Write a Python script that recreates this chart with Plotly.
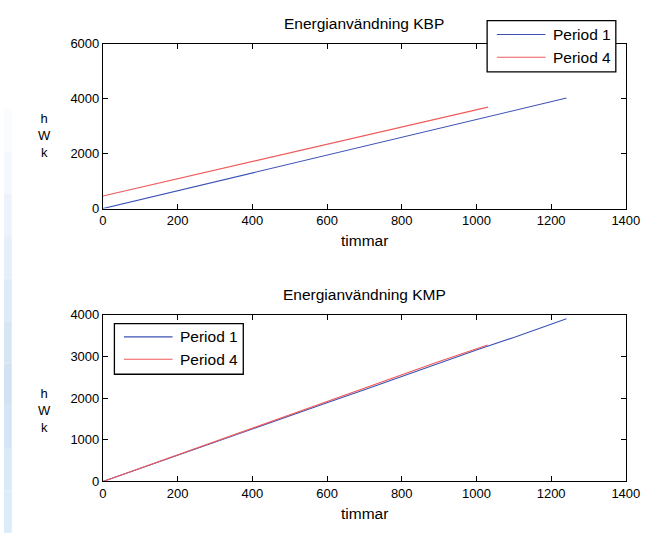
import plotly.graph_objects as go

W, H = 659, 541

# Energy use, KBP (hours vs. kWh)
kbp_p1_hours = [0, 100, 200, 300, 400, 500, 600, 700, 800, 900, 1000, 1100, 1241]
kbp_p1_kwh = [0, 325, 648, 970, 1296, 1620, 1944, 2268, 2590, 2915, 3240, 3565, 4020]
kbp_p4_hours = [0, 100, 200, 300, 400, 500, 600, 700, 800, 900, 1031]
kbp_p4_kwh = [460, 775, 1087, 1400, 1713, 2027, 2340, 2653, 2966, 3280, 3690]

# Energy use, KMP
kmp_p1_hours = [0, 100, 200, 300, 400, 500, 600, 700, 800, 900, 1000, 1100, 1241]
kmp_p1_kwh = [0, 312, 625, 940, 1255, 1572, 1890, 2205, 2525, 2842, 3160, 3460, 3907]
kmp_p4_hours = [0, 100, 200, 300, 400, 500, 600, 700, 800, 900, 1030]
kmp_p4_kwh = [0, 320, 640, 957, 1275, 1595, 1915, 2238, 2560, 2880, 3276]

titles = ["Energianvändning KBP", "Energianvändning KMP"]
series_names = ["Period 1", "Period 4"]
x_label = "timmar"
y_label_letters = ["h", "W", "k"]
x_ticks = [0, 200, 400, 600, 800, 1000, 1200, 1400]
y_ticks_top = [0, 2000, 4000, 6000]
y_ticks_bottom = [0, 1000, 2000, 3000, 4000]

BLUE = "#3c52b4"
RED = "#f05a5a"
FONT = "Liberation Sans, Arial, sans-serif"


def px(x):
    return x / W


def py(y):
    return 1 - y / H


fig = go.Figure()

fig.add_trace(go.Scatter(x=kbp_p1_hours, y=kbp_p1_kwh, mode="lines",
                         line=dict(color=BLUE, width=1.1), xaxis="x", yaxis="y"))
fig.add_trace(go.Scatter(x=kbp_p4_hours, y=kbp_p4_kwh, mode="lines",
                         line=dict(color=RED, width=1.1), xaxis="x", yaxis="y"))
fig.add_trace(go.Scatter(x=kmp_p1_hours, y=kmp_p1_kwh, mode="lines",
                         line=dict(color=BLUE, width=1.1), xaxis="x2", yaxis="y2"))
fig.add_trace(go.Scatter(x=kmp_p4_hours, y=kmp_p4_kwh, mode="lines",
                         line=dict(color=RED, width=1.1), xaxis="x2", yaxis="y2"))

x_left, x_right = 101.7, 639.3
top_box = (37.7, 207.3)
bot_box = (316.7, 488.0)

axis_common = dict(
    showline=True, linecolor="black", linewidth=1, mirror="ticks",
    ticks="inside", ticklen=5, tickcolor="black", tickwidth=1,
    showgrid=False, zeroline=False,
    tickfont=dict(family=FONT, size=13, color="black"),
)

fig.update_layout(
    width=W, height=H,
    margin=dict(l=0, r=0, t=0, b=0),
    paper_bgcolor="white", plot_bgcolor="white",
    showlegend=False,
    xaxis=dict(domain=[px(x_left), px(x_right)], range=[0, 1400],
               tickvals=x_ticks, anchor="y", **axis_common),
    yaxis=dict(domain=[py(top_box[1]), py(top_box[0])], range=[0, 6000],
               tickvals=y_ticks_top, anchor="x", **axis_common),
    xaxis2=dict(domain=[px(x_left), px(x_right)], range=[0, 1400],
                tickvals=x_ticks, anchor="y2", **axis_common),
    yaxis2=dict(domain=[py(bot_box[1]), py(bot_box[0])], range=[0, 4000],
                tickvals=y_ticks_bottom, anchor="x2", **axis_common),
)

shapes = []
annotations = []

# soft blue strip along the left edge of the page
strip_colors = ["#fbfcfe", "#f4f7fc", "#eef3fb", "#e6eff9", "#dcebf7",
                "#d6e6f5", "#d2e2f3", "#d4e5f5", "#d8e9f7", "#dcecf8"]
y0 = 105
step = (H - y0) / len(strip_colors)
for i, c in enumerate(strip_colors):
    shapes.append(dict(type="rect", xref="paper", yref="paper",
                       x0=0, x1=px(8), y0=py(y0 + (i + 1) * step), y1=py(y0 + i * step),
                       fillcolor=c, line=dict(width=0), layer="below"))

text_font = dict(family=FONT, size=15.5, color="black")
ylabel_font = dict(family=FONT, size=13, color="black")

for title, ybox, ylab_center in [(titles[0], top_box, 132.5),
                                 (titles[1], bot_box, 415)]:
    annotations.append(dict(text=title, xref="paper", yref="paper",
                            x=px((x_left + x_right) / 2), y=py(ybox[0] - 20.5),
                            xanchor="center", yanchor="middle", showarrow=False,
                            font=text_font))
    annotations.append(dict(text=x_label, xref="paper", yref="paper",
                            x=px((x_left + x_right) / 2), y=py(ybox[1] + 33),
                            xanchor="center", yanchor="middle", showarrow=False,
                            font=text_font))
    # vertical label, one letter per line
    annotations.append(dict(text="<br>".join(y_label_letters), xref="paper", yref="paper",
                            x=px(41.5), y=py(ylab_center), xanchor="center",
                            yanchor="middle", align="center", showarrow=False,
                            font=ylabel_font))

# legend boxes: (left, top, right, bottom), sample line rows
legends = [
    ((496.7, 14.0, 629.0, 66.7), [28.3, 51.7], 506.7, 556.7, 562.3),
    ((113.5, 325.7, 246.0, 377.7), [339.3, 362.3], 123.3, 173.3, 179.3),
]
for (l, t, r, b), rows, lx0, lx1, tx in legends:
    shapes.append(dict(type="rect", xref="paper", yref="paper",
                       x0=px(l), x1=px(r), y0=py(b), y1=py(t),
                       fillcolor="white", line=dict(color="black", width=1.3)))
    for yy, color, name in zip(rows, [BLUE, RED], series_names):
        shapes.append(dict(type="line", xref="paper", yref="paper",
                           x0=px(lx0), x1=px(lx1), y0=py(yy), y1=py(yy),
                           line=dict(color=color, width=1.1)))
        annotations.append(dict(text=name, xref="paper", yref="paper",
                                x=px(tx), y=py(yy), xanchor="left", yanchor="middle",
                                showarrow=False, font=text_font))

fig.update_layout(shapes=shapes, annotations=annotations)

fig.write_html("out.html")
